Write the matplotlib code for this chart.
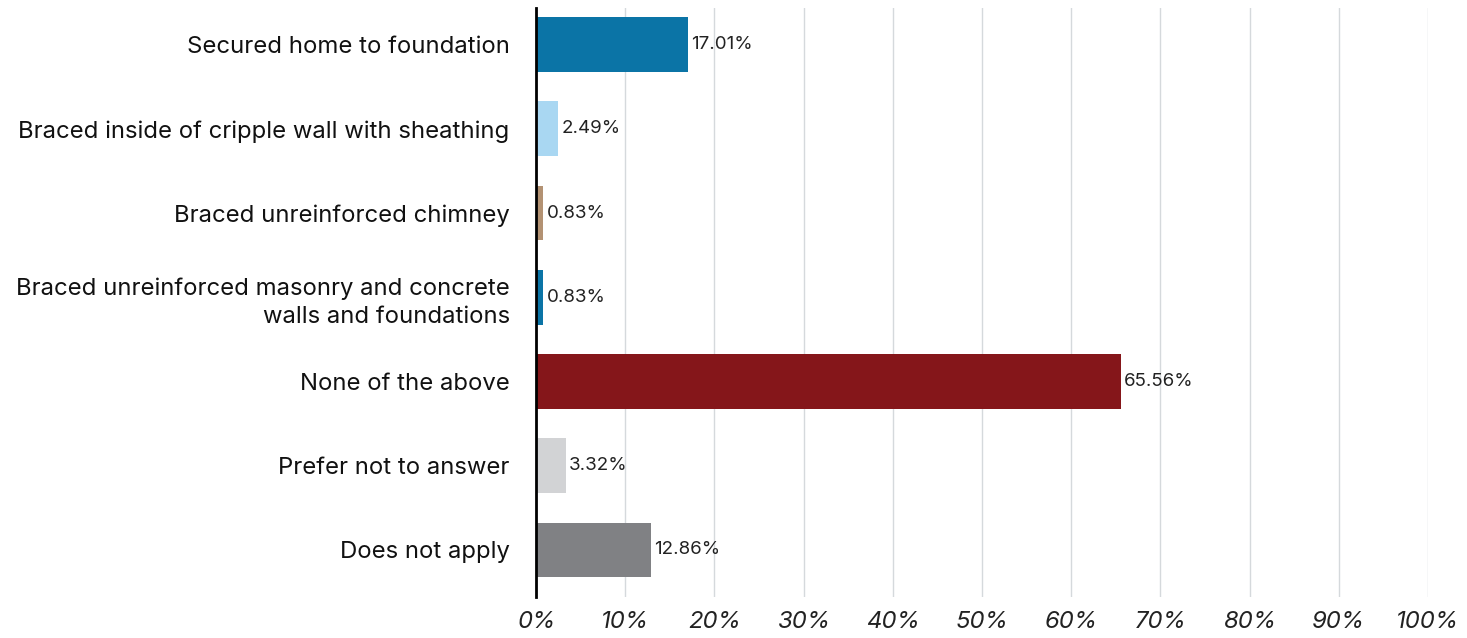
import matplotlib.pyplot as plt

categories = [
    'Secured home to foundation',
    'Braced inside of cripple wall with sheathing',
    'Braced unreinforced chimney',
    'Braced unreinforced masonry and concrete\nwalls and foundations',
    'None of the above',
    'Prefer not to answer',
    'Does not apply',
]
values = [17.01, 2.49, 0.83, 0.83, 65.56, 3.32, 12.86]
colors = ['#0b74a6', '#a9d7f2', '#b39273', '#0b74a6', '#85161a', '#d2d3d5', '#808184']
ticks = list(range(0, 101, 10))

plt.rcParams['font.family'] = ['Inter', 'DejaVu Sans']

fig = plt.figure(figsize=(14.67, 6.38), dpi=100)
ax = fig.add_axes([0.3654, 0.064, 0.608, 0.923])

pos = list(range(len(categories)))
ax.barh(pos, values, height=0.65, color=colors, zorder=2)
for y, v in zip(pos, values):
    ax.text(v + 0.4, y, f'{v:.2f}%', va='center', ha='left', fontsize=13.5,
            color='#222222')

ax.set_xlim(0, 100)
ax.set_ylim(6.56, -0.43)
ax.set_yticks(pos)
ax.set_yticklabels(categories, fontsize=17.2, color='#111111', ha='right',
                   multialignment='right', linespacing=1.35)
ax.set_xticks(ticks)
ax.set_xticklabels([f'{t}%' for t in ticks], fontsize=17.2, style='italic',
                   color='#222222')
ax.tick_params(axis='both', length=0)
ax.tick_params(axis='y', pad=19)
ax.tick_params(axis='x', pad=10)
ax.grid(axis='x', color='#d5d9dc', linewidth=1, zorder=0)
for s in ['top', 'right', 'bottom']:
    ax.spines[s].set_visible(False)
ax.spines['left'].set_linewidth(2)
ax.spines['left'].set_zorder(3)

fig.savefig('out.png', dpi=100)
